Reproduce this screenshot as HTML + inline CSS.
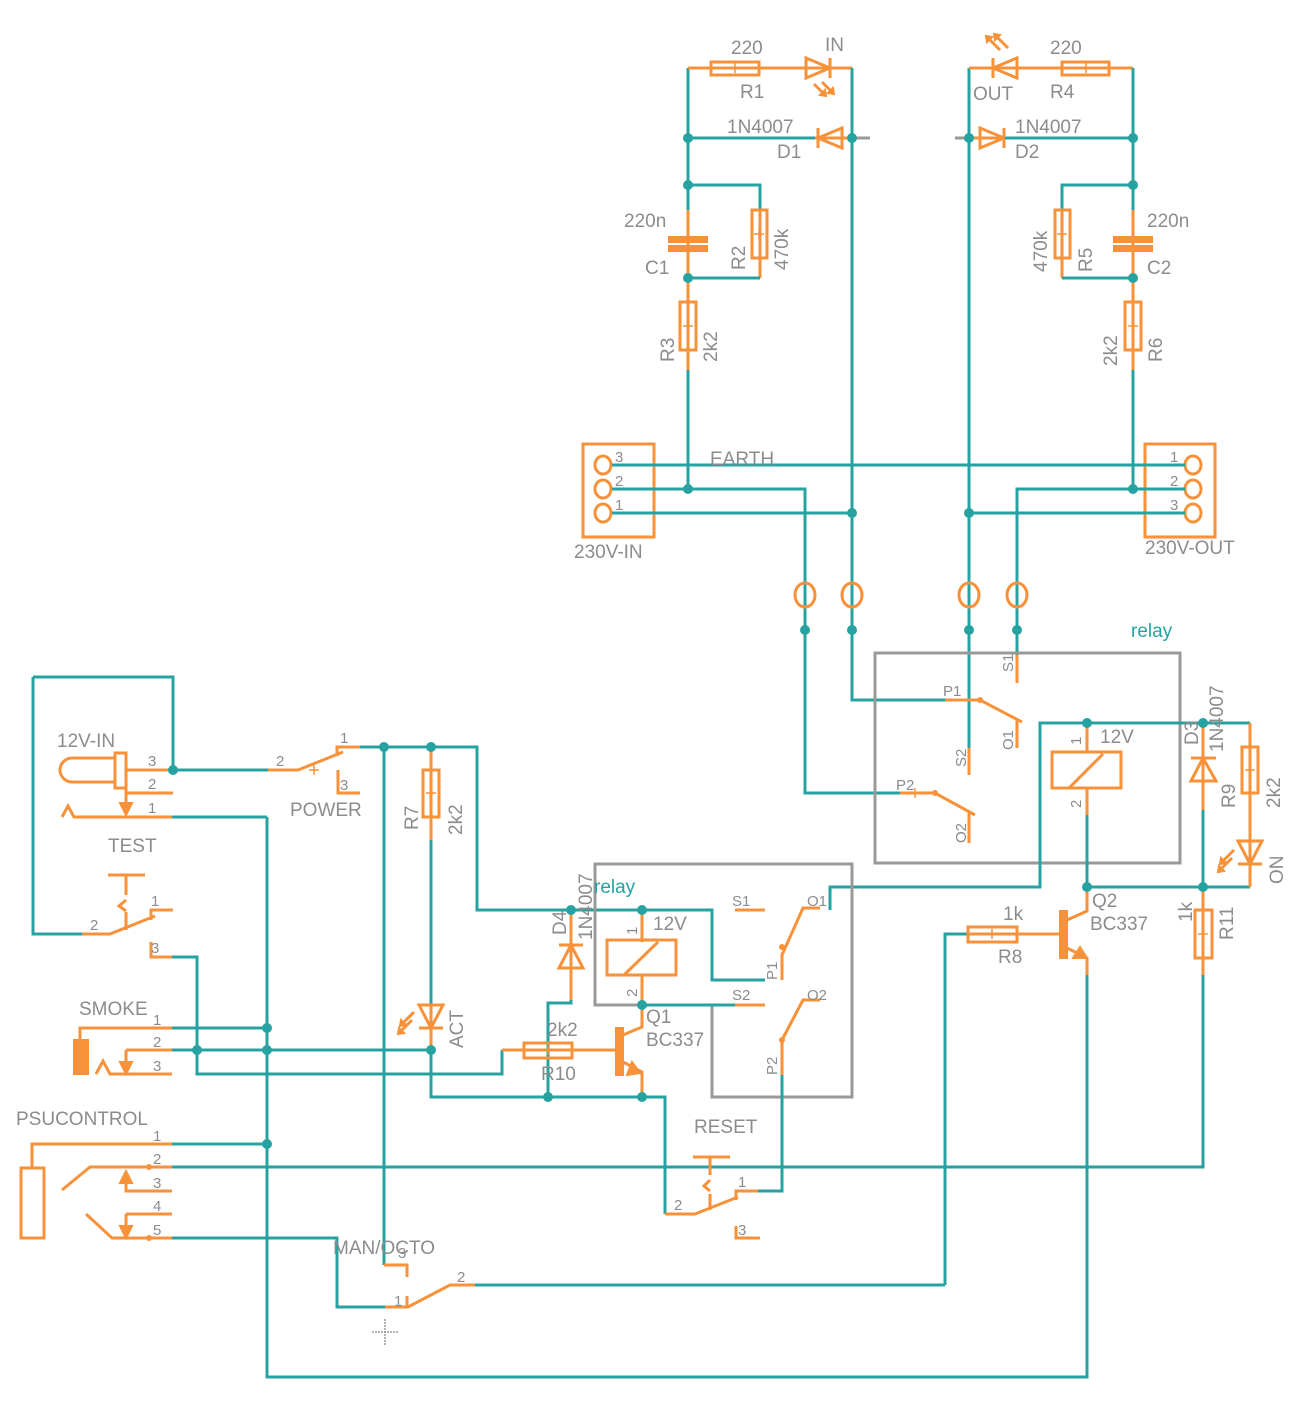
<!DOCTYPE html>
<html><head><meta charset="utf-8">
<style>
html,body{margin:0;padding:0;background:#fff;}
svg{display:block;}
.t{stroke:#26a3a0;stroke-width:3;fill:none;}
.o{stroke:#f7923a;stroke-width:3;fill:none;}
.of{fill:#f7923a;stroke:#f7923a;stroke-width:2;}
.g{stroke:#999;stroke-width:3;fill:none;}
.gs{stroke:#999;stroke-width:3;}
text{font-family:"Liberation Sans",sans-serif;fill:#8c8c8c;font-size:19px;}
.s{font-size:15px;}
.c{fill:#26a3a0;font-size:19px;}
.p{stroke:#f7923a;stroke-width:1.5;fill:none;}
.pg{stroke:#8c8c8c;stroke-width:1.3;fill:none;}
</style></head><body>
<svg width="1315" height="1412" viewBox="0 0 1315 1412" xmlns="http://www.w3.org/2000/svg">
<defs>
<g id="d"><path d="M-6 0 L6 0"/></g>
</defs>

<!-- ============ TOP LEFT ============ -->
<path class="t" d="M688 68 V210"/>
<path class="o" d="M688 210 V278"/>
<path class="t" d="M688 278 V280"/>
<path class="o" d="M688 280 V370"/>
<path class="t" d="M688 370 V489"/>
<rect class="of" x="669" y="237" width="38" height="5" stroke-width="0"/>
<rect class="of" x="669" y="246" width="38" height="5" stroke-width="0"/>
<rect class="o" x="680" y="302" width="16" height="48"/>
<path class="p" d="M688 321 v10 M683 326 h10"/>
<!-- top line R1 + LED -->
<path class="o" d="M688 68 H852"/>
<rect class="o" x="711" y="62" width="48" height="13" fill="#fff"/>
<path class="p" d="M735 63 v10 M730 68 h10"/>
<path class="o" d="M806 58 L830 68 L806 78 Z M830 58 V78" fill="#fff"/>
<path class="o" d="M814 84 l10 10 M822 82 l10 10" stroke-width="2.5"/>
<path class="of" d="M826 96 l-6 -1 l5 -5 z M834 94 l-6 -1 l5 -5 z"/>
<path class="t" d="M852 68 V700 H945"/>
<!-- D1 -->
<path class="t" d="M688 138 H815"/>
<path class="o" d="M815 138 H852"/>
<path class="o" d="M818 128 V148 M818 138 L842 128 V148 Z" fill="#fff"/>
<path class="gs" d="M852 138 H870"/>
<!-- R2 -->
<path class="t" d="M688 185 H760 V210"/>
<path class="o" d="M760 210 V278"/>
<path class="t" d="M760 278 H688"/>
<rect class="o" x="752" y="210" width="15" height="48" fill="#fff"/>
<path class="p" d="M759 229 v10 M754 234 h10"/>

<!-- ============ TOP RIGHT ============ -->
<path class="t" d="M969 68 V748"/>
<path class="o" d="M969 68 H1133"/>
<path class="t" d="M1133 68 V210"/>
<path class="o" d="M1133 210 V278"/>
<path class="o" d="M1133 280 V370"/>
<path class="t" d="M1133 370 V489"/>
<rect class="of" x="1114" y="237" width="38" height="5" stroke-width="0"/>
<rect class="of" x="1114" y="246" width="38" height="5" stroke-width="0"/>
<rect class="o" x="1125" y="302" width="16" height="48" fill="#fff"/>
<path class="p" d="M1133 321 v10 M1128 326 h10"/>
<rect class="o" x="1062" y="62" width="47" height="13" fill="#fff"/>
<path class="p" d="M1086 63 v10 M1081 68 h10"/>
<path class="o" d="M1017 58 L993 68 L1017 78 Z M993 58 V78" fill="#fff"/>
<path class="o" d="M1000 50 l-10 -10 M1008 48 l-10 -10" stroke-width="2.5"/>
<path class="of" d="M986 36 l6 1 l-5 5 z M994 34 l6 1 l-5 5 z"/>
<path class="gs" d="M955 138 H969"/>
<path class="o" d="M969 138 H1005"/>
<path class="o" d="M980 128 L1004 138 L980 148 Z M1004 128 V148" fill="#fff"/>
<path class="t" d="M1005 138 H1133"/>
<path class="t" d="M1133 185 H1062 V210"/>
<path class="o" d="M1062 210 V278"/>
<path class="t" d="M1062 278 H1133"/>
<rect class="o" x="1055" y="210" width="15" height="48" fill="#fff"/>
<path class="p" d="M1062 229 v10 M1057 234 h10"/>

<!-- ============ CONNECTORS ============ -->
<rect class="o" x="583" y="444" width="71" height="93" stroke-width="4"/>
<rect class="o" x="1145" y="444" width="70" height="93" stroke-width="4"/>
<g class="o"><ellipse cx="603" cy="465" rx="8" ry="9"/><ellipse cx="603" cy="489" rx="8" ry="9"/><ellipse cx="603" cy="513" rx="8" ry="9"/>
<ellipse cx="1193" cy="465" rx="8" ry="9"/><ellipse cx="1193" cy="489" rx="8" ry="9"/><ellipse cx="1193" cy="513" rx="8" ry="9"/></g>
<path class="t" d="M612 465 H1185"/>
<path class="t" d="M612 489 H805 V793 H900"/>
<path class="t" d="M612 513 H852"/>
<path class="t" d="M1185 489 H1017 V683"/>
<path class="t" d="M1185 513 H969"/>
<g class="o" stroke-width="3"><ellipse cx="805" cy="595" rx="10" ry="12"/><ellipse cx="852" cy="595" rx="10" ry="12"/><ellipse cx="969" cy="595" rx="10" ry="12"/><ellipse cx="1017" cy="595" rx="10" ry="12"/></g>

<!-- ============ BIG RELAY ============ -->
<rect class="g" x="875" y="653" width="305" height="210"/>
<path class="o" d="M945 700 H980 L1022 722 M1017 720 V748"/>
<circle cx="980" cy="700" r="3" fill="#f7923a"/>
<path class="o" d="M969 748 V775"/>
<path class="o" d="M1017 655 V683"/>
<path class="o" d="M900 793 H935 L975 815 M969 813 V843"/>
<circle cx="935" cy="793" r="3" fill="#f7923a"/>
<path class="p" d="M915 788 v10"/>
<!-- coil relay2 -->
<path class="t" d="M830 910 V887 H1040 V723 H1250"/>
<path class="o" d="M1087 723 V752 M1087 788 V815"/>
<rect class="o" x="1052" y="752" width="69" height="36" fill="#fff"/>
<path class="o" d="M1069 788 L1103 754"/>
<path class="t" d="M1087 815 V887 H1250"/>
<!-- D3 -->
<path class="o" d="M1203 723 V810"/>
<path class="o" d="M1191 758 H1216 M1203 758 L1191 781 H1216 Z" fill="#fff"/>
<path class="t" d="M1203 810 V887"/>
<!-- R9 + ON -->
<path class="o" d="M1250 723 V887"/>
<rect class="o" x="1242" y="747" width="16" height="46" fill="#fff"/>
<path class="p" d="M1250 765 v10 M1245 770 h10"/>
<path class="o" d="M1238 841 H1262 L1250 864 Z M1238 864 H1262" fill="#fff"/>
<path class="o" d="M1234 850 l-10 10 M1232 858 l-10 10" stroke-width="2.5"/>
<path class="of" d="M1220 864 l1 -6 l5 5 z M1218 872 l1 -6 l5 5 z"/>
<!-- R11 -->
<path class="o" d="M1203 887 V975"/>
<rect class="o" x="1195" y="910" width="17" height="48" fill="#fff"/>
<path class="p" d="M1203 929 v10 M1198 934 h10"/>
<path class="t" d="M1203 975 V1167 H172"/>
<!-- Q2 -->
<path class="t" d="M945 1285 V934 H968"/>
<path class="o" d="M968 934 H1060"/>
<rect class="o" x="968" y="927" width="49" height="15" fill="#fff"/>
<path class="p" d="M992 929 v10 M987 934 h10"/>
<rect class="of" x="1060" y="911" width="7" height="47"/>
<path class="o" d="M1067 920 L1087 911 V887 M1067 948 L1087 958 V975"/>
<path class="of" d="M1087 958 L1073 958 L1080 947 Z"/>
<path class="t" d="M1087 975 V1377 H267 V817"/>

<!-- ============ LEFT 12V-IN ============ -->
<path class="t" d="M33 677 H173 V770"/>
<path class="t" d="M33 677 V934 H82"/>
<path class="o" d="M126 770 H173"/>
<rect class="o" x="115" y="753" width="11" height="35" fill="#fff"/>
<path class="o" d="M115 758 H72 A12 12 0 0 0 72 782 H115"/>
<path class="o" d="M126 793 H173 M126 788 V808"/>
<path class="of" d="M120 803 H132 L126 815 Z"/>
<path class="o" d="M62 817 L68 806 L74 817 H172"/>
<path class="t" d="M172 817 H267"/>
<path class="t" d="M173 770 H268"/>
<path class="o" d="M268 770 H298 L343 752 M337 756 V747 H360"/>
<path class="p" d="M314 765 v10 M309 770 h10"/>
<path class="o" d="M338 770 V793 H360"/>
<path class="t" d="M360 747 H477 V910 H712 V980 H765"/>
<path class="t" d="M384 747 V1265"/>
<path class="o" d="M384 1265 H407 V1277"/>
<!-- R7 / ACT -->
<path class="o" d="M431 747 V840"/>
<rect class="o" x="423" y="770" width="16" height="47" fill="#fff"/>
<path class="p" d="M431 788 v10 M426 793 h10"/>
<path class="t" d="M431 840 V1005"/>
<path class="o" d="M431 1005 V1050 M419 1005 H443 L431 1028 Z M419 1028 H443" fill="#fff"/>
<path class="o" d="M414 1012 l-10 10 M412 1020 l-10 10" stroke-width="2.5"/>
<path class="of" d="M400 1026 l1 -6 l5 5 z M398 1034 l1 -6 l5 5 z"/>
<path class="t" d="M431 1050 V1097 H665 V1214"/>
<!-- TEST -->
<path class="o" d="M82 934 H110 L155 916 M151 920 V910 H173"/>
<path class="o" d="M108 875 H145 M126 875 V895 M126 900 L119 906 L126 911 M126 912 V930"/>
<path class="o" d="M151 942 V957 H172"/>
<path class="t" d="M172 957 H197 V1074 H502 V1050"/>
<!-- SMOKE -->
<rect class="of" x="74" y="1040" width="14" height="34"/>
<path class="o" d="M80 1040 V1028 H172 M126 1050 H172 M126 1050 V1062 M96 1074 L103 1061 L110 1074 H172"/>
<path class="of" d="M120 1062 H132 L126 1074 Z"/>
<path class="t" d="M172 1028 H267 M172 1050 H431"/>
<!-- PSUCONTROL -->
<rect class="o" x="21" y="1168" width="23" height="70"/>
<path class="o" d="M32 1168 V1144 H172"/>
<path class="t" d="M172 1144 H267"/>
<path class="o" d="M62 1190 L90 1167 H172 M126 1181 V1191 H172 M126 1214 H172 M126 1214 V1226 M86 1214 L112 1238 H172"/>
<path class="of" d="M120 1183 H132 L126 1171 Z M120 1226 H132 L126 1238 Z"/>
<circle cx="149" cy="1167" r="3" fill="#f7923a"/><circle cx="149" cy="1238" r="3" fill="#f7923a"/>
<path class="t" d="M172 1238 H337 V1307 H385"/>
<path class="o" d="M385 1307 H408 L450 1285 H475 M407 1307 V1296"/>
<path class="t" d="M475 1285 H945"/>
<path class="pg" d="M372 1332 h26 M385 1319 v26" stroke-dasharray="2 1"/>

<!-- ============ SMALL RELAY ============ -->
<path class="g" d="M595 1005 V864 H852 V1097 H712 V1005 Z"/>
<path class="o" d="M642 910 V942 M642 975 V1005"/>
<rect class="o" x="607" y="940" width="69" height="35" fill="#fff"/>
<path class="o" d="M624 975 L658 942"/>
<path class="t" d="M642 1005 H735"/>
<path class="o" d="M735 1005 H765 M735 910 H765"/>
<path class="o" d="M782 980 V955 L803 908 H820 M782 1040 V1040 L803 1000 H820"/>
<circle cx="782" cy="947" r="3" fill="#f7923a"/><circle cx="782" cy="1040" r="3" fill="#f7923a"/>
<path class="o" d="M782 1040 V1075"/>
<path class="t" d="M782 1075 V1191 H758"/>
<!-- D4 -->
<path class="o" d="M571 910 V1000"/>
<path class="o" d="M559 945 H583 M571 945 L559 968 H583 Z" fill="#fff"/>
<path class="t" d="M571 1000 V1003 H548 V1097"/>
<!-- R10 Q1 -->
<path class="o" d="M502 1050 H617"/>
<rect class="o" x="524" y="1043" width="48" height="15" fill="#fff"/>
<path class="p" d="M548 1045 v10 M543 1050 h10"/>
<rect class="of" x="616" y="1028" width="7" height="47"/>
<path class="o" d="M623 1035 L642 1027 V1005 M623 1062 L642 1072 V1097"/>
<path class="of" d="M640 1073 L627 1075 L632 1062 Z"/>
<!-- RESET -->
<path class="o" d="M665 1214 H695 L738 1197 M736 1200 V1191 H758"/>
<path class="o" d="M693 1157 H730 M710 1157 V1175 M710 1180 L704 1186 L710 1191 M710 1194 V1210"/>
<path class="o" d="M736 1226 V1238 H760"/>

<!-- ============ DOTS ============ -->
<g fill="#26a3a0">
<circle cx="688" cy="138" r="5"/><circle cx="688" cy="185" r="5"/><circle cx="688" cy="278" r="5"/><circle cx="852" cy="138" r="5"/>
<circle cx="969" cy="138" r="5"/><circle cx="1133" cy="138" r="5"/><circle cx="1133" cy="185" r="5"/><circle cx="1133" cy="278" r="5"/>
<circle cx="688" cy="489" r="5"/><circle cx="852" cy="513" r="5"/><circle cx="969" cy="513" r="5"/><circle cx="1133" cy="489" r="5"/>
<circle cx="805" cy="630" r="5"/><circle cx="852" cy="630" r="5"/><circle cx="969" cy="630" r="5"/><circle cx="1017" cy="630" r="5"/>
<circle cx="1087" cy="723" r="5"/><circle cx="1203" cy="723" r="5"/><circle cx="1087" cy="887" r="5"/><circle cx="1203" cy="887" r="5"/>
<circle cx="173" cy="770" r="5"/><circle cx="384" cy="747" r="5"/><circle cx="431" cy="747" r="5"/>
<circle cx="571" cy="910" r="5"/><circle cx="642" cy="910" r="5"/><circle cx="642" cy="1005" r="5"/>
<circle cx="267" cy="1028" r="5"/><circle cx="197" cy="1050" r="5"/><circle cx="267" cy="1050" r="5"/><circle cx="431" cy="1050" r="5"/>
<circle cx="548" cy="1097" r="5"/><circle cx="642" cy="1097" r="5"/><circle cx="267" cy="1144" r="5"/>
</g>

<!-- ============ TEXT ============ -->
<text x="731" y="54">220</text><text x="740" y="98">R1</text>
<text x="825" y="51">IN</text>
<text x="727" y="133">1N4007</text><text x="777" y="158">D1</text>
<text x="624" y="227">220n</text><text x="645" y="274">C1</text>
<text transform="translate(745,270) rotate(-90)">R2</text>
<text transform="translate(788,270) rotate(-90)">470k</text>
<text transform="translate(674,362) rotate(-90)">R3</text>
<text transform="translate(717,362) rotate(-90)">2k2</text>
<text x="1050" y="54">220</text><text x="1050" y="98">R4</text>
<text x="973" y="100">OUT</text>
<text x="1015" y="133">1N4007</text><text x="1015" y="158">D2</text>
<text x="1147" y="227">220n</text><text x="1147" y="274">C2</text>
<text transform="translate(1047,272) rotate(-90)">470k</text>
<text transform="translate(1092,272) rotate(-90)">R5</text>
<text transform="translate(1117,366) rotate(-90)">2k2</text>
<text transform="translate(1162,362) rotate(-90)">R6</text>
<text x="710" y="465">EARTH</text>
<text class="s" x="615" y="462">3</text><text class="s" x="615" y="486">2</text><text class="s" x="615" y="510">1</text>
<text class="s" x="1170" y="462">1</text><text class="s" x="1170" y="486">2</text><text class="s" x="1170" y="510">3</text>
<text x="574" y="558">230V-IN</text><text x="1145" y="554">230V-OUT</text>
<text class="c" x="1131" y="637">relay</text>
<text class="s" x="943" y="696">P1</text><text class="s" x="896" y="790">P2</text>
<text class="s" transform="translate(1013,672) rotate(-90)">S1</text>
<text class="s" transform="translate(966,767) rotate(-90)">S2</text>
<text class="s" transform="translate(1013,750) rotate(-90)">O1</text>
<text class="s" transform="translate(966,843) rotate(-90)">O2</text>
<text class="s" transform="translate(1081,745) rotate(-90)">1</text>
<text class="s" transform="translate(1081,808) rotate(-90)">2</text>
<text x="1100" y="743">12V</text>
<text transform="translate(1198,745) rotate(-90)">D3</text>
<text transform="translate(1223,752) rotate(-90)">1N4007</text>
<text transform="translate(1235,808) rotate(-90)">R9</text>
<text transform="translate(1280,808) rotate(-90)">2k2</text>
<text transform="translate(1283,884) rotate(-90)">ON</text>
<text x="1092" y="907">Q2</text><text x="1090" y="930">BC337</text>
<text x="1003" y="920">1k</text><text x="998" y="963">R8</text>
<text transform="translate(1192,922) rotate(-90)">1k</text>
<text transform="translate(1233,940) rotate(-90)">R11</text>
<text x="57" y="747">12V-IN</text>
<text class="s" x="148" y="766">3</text><text class="s" x="148" y="789">2</text><text class="s" x="148" y="813">1</text>
<text x="108" y="852">TEST</text>
<text class="s" x="151" y="906">1</text><text class="s" x="90" y="930">2</text><text class="s" x="151" y="953">3</text>
<text class="s" x="276" y="766">2</text><text class="s" x="340" y="743">1</text><text class="s" x="340" y="790">3</text>
<text x="290" y="816">POWER</text>
<text transform="translate(418,830) rotate(-90)">R7</text>
<text transform="translate(462,835) rotate(-90)">2k2</text>
<text transform="translate(463,1048) rotate(-90)">ACT</text>
<text x="79" y="1015">SMOKE</text>
<text class="s" x="153" y="1025">1</text><text class="s" x="153" y="1047">2</text><text class="s" x="153" y="1071">3</text>
<text x="16" y="1125">PSUCONTROL</text>
<text class="s" x="153" y="1141">1</text><text class="s" x="153" y="1164">2</text><text class="s" x="153" y="1188">3</text><text class="s" x="153" y="1211">4</text><text class="s" x="153" y="1235">5</text>
<text x="333" y="1254">MAN/OCTO</text>
<text class="s" x="394" y="1306">1</text><text class="s" x="457" y="1282">2</text><text class="s" x="398" y="1258">3</text>
<text transform="translate(566,935) rotate(-90)">D4</text>
<text transform="translate(592,940) rotate(-90)">1N4007</text>
<text class="c" x="594" y="893">relay</text>
<text class="s" transform="translate(637,935) rotate(-90)">1</text>
<text class="s" transform="translate(637,997) rotate(-90)">2</text>
<text x="653" y="930">12V</text>
<text class="s" x="732" y="906">S1</text><text class="s" x="732" y="1000">S2</text>
<text class="s" x="807" y="906">O1</text><text class="s" x="807" y="1000">O2</text>
<text class="s" transform="translate(777,980) rotate(-90)">P1</text>
<text class="s" transform="translate(777,1075) rotate(-90)">P2</text>
<text x="646" y="1023">Q1</text><text x="646" y="1046">BC337</text>
<text x="547" y="1036">2k2</text><text x="541" y="1080">R10</text>
<text x="694" y="1133">RESET</text>
<text class="s" x="674" y="1210">2</text><text class="s" x="738" y="1187">1</text><text class="s" x="738" y="1235">3</text>
</g>
</svg>
</body></html>
